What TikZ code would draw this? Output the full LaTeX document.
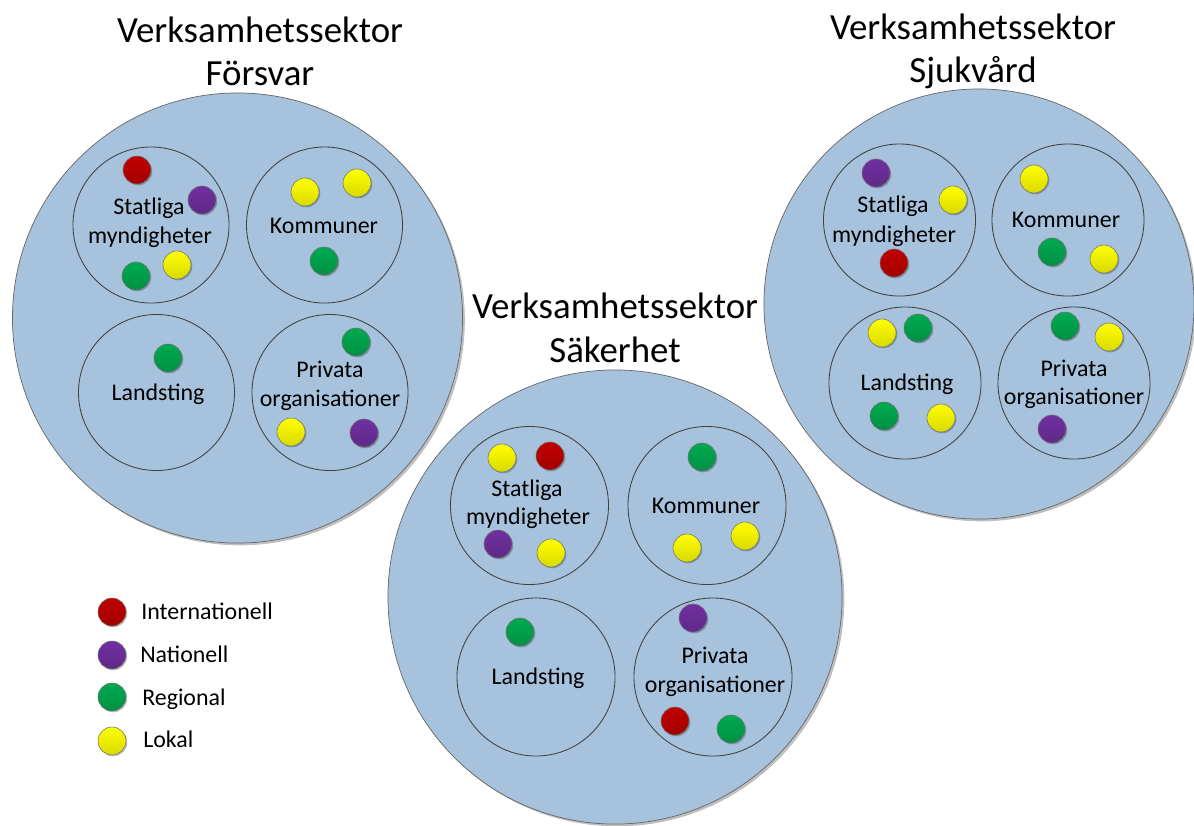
\documentclass[tikz,border=0pt]{standalone}
\usepackage{fontspec}
\setmainfont{Carlito}
\usetikzlibrary{shadows}
\definecolor{sectorblue}{RGB}{166, 194, 220}
\definecolor{intred}{RGB}{192, 0, 0}
\definecolor{natpurple}{RGB}{112, 48, 160}
\definecolor{reggreen}{RGB}{0, 170, 80}
\definecolor{lokyellow}{RGB}{255, 255, 0}

\tikzset{
  sector/.style={circle, draw=black!60, line width=0.5pt, fill=sectorblue, minimum size=#1, inner sep=0pt,
    drop shadow={shadow xshift=1.6pt, shadow yshift=-1.6pt, fill=black, opacity=0.25}},
  unit/.style={circle, draw=black!75, line width=0.6pt, minimum size=#1, inner sep=0pt},
  dot/.style={circle, draw=black!55, line width=0.4pt, minimum size=0.7cm, inner sep=0pt,
    top color=#1, bottom color=#1!85!black,
    drop shadow={shadow xshift=0.9pt, shadow yshift=-0.9pt, fill=black, opacity=0.25}},
  title/.style={anchor=base, inner sep=0pt, font=\fontsize{26.2}{31}\selectfont},
  lbl/.style={anchor=base, inner sep=0pt, font=\fontsize{17}{21}\selectfont},
  legendtext/.style={anchor=base west, inner sep=0pt, font=\fontsize{17}{21}\selectfont}
}

\begin{document}
\begin{tikzpicture}[x=0.025cm, y=-0.025cm]
  \useasboundingbox (0,0) rectangle (1194,825);

  % Sectors
  \node[sector=11.25cm] (forsvar) at (237.5,318) {};
  \node[sector=10.75cm] (sjukvard) at (979,304) {};
  \node[sector=11.35cm] (sakerhet) at (615,597) {};

  % Titles
  \node[title] (forsvar-t1) at (260,42) {Verksamhetssektor};
  \node[title] (forsvar-t2) at (260,85) {Försvar};
  \node[title] (sakerhet-t1) at (615,318) {Verksamhetssektor};
  \node[title] (sakerhet-t2) at (615,362) {Säkerhet};
  \node[title] (sjukvard-t1) at (973,39) {Verksamhetssektor};
  \node[title] (sjukvard-t2) at (973,82) {Sjukvård};

  % Units, Försvar
  \node[unit=3.9cm] (fstat) at (151,225) {};
  \node[unit=3.9cm] (fkomm) at (324.5,225) {};
  \node[unit=3.9cm] (fland) at (156.5,392.5) {};
  \node[unit=3.9cm] (fpriv) at (330,392.5) {};
  \node[lbl] (fstat-l1) at (149,214) {Statliga};
  \node[lbl] (fstat-l2) at (150,243) {myndigheter};
  \node[lbl] (fkomm-l) at (324,233) {Kommuner};
  \node[lbl] (fland-l) at (158,400) {Landsting};
  \node[lbl] (fpriv-l1) at (330,377) {Privata};
  \node[lbl] (fpriv-l2) at (330,406) {organisationer};

  % Units, Säkerhet
  \node[unit=3.95cm] (sstat) at (529.5,505.5) {};
  \node[unit=3.95cm] (skomm) at (707,505.5) {};
  \node[unit=3.95cm] (sland) at (536,677) {};
  \node[unit=3.95cm] (spriv) at (713,677) {};
  \node[lbl] (sstat-l1) at (527,496) {Statliga};
  \node[lbl] (sstat-l2) at (528,524) {myndigheter};
  \node[lbl] (skomm-l) at (706,513) {Kommuner};
  \node[lbl] (sland-l) at (538,684) {Landsting};
  \node[lbl] (spriv-l1) at (715,663) {Privata};
  \node[lbl] (spriv-l2) at (715,692) {organisationer};

  % Units, Sjukvård
  \node[unit=3.8cm] (jstat) at (899.5,220) {};
  \node[unit=3.8cm] (jkomm) at (1068,220) {};
  \node[unit=3.8cm] (jland) at (905,383) {};
  \node[unit=3.8cm] (jpriv) at (1074,383) {};
  \node[lbl] (jstat-l1) at (893,212) {Statliga};
  \node[lbl] (jstat-l2) at (894,242) {myndigheter};
  \node[lbl] (jkomm-l) at (1066,227) {Kommuner};
  \node[lbl] (jland-l) at (907,390) {Landsting};
  \node[lbl] (jpriv-l1) at (1074,376) {Privata};
  \node[lbl] (jpriv-l2) at (1074,404) {organisationer};

  % Actors
  \foreach \px/\py/\col [count=\i] in {137/170/intred, 202/200/natpurple, 136/276/reggreen, 177/265/lokyellow,
      305/192/lokyellow, 357/183/lokyellow, 324/261/reggreen, 168/358/reggreen,
      356/342/reggreen, 291/432/lokyellow, 364/433/natpurple}
    \node[dot=\col] (fd\i) at (\px,\py) {};
  \foreach \px/\py/\col [count=\i] in {502/458/lokyellow, 550/456/intred, 498/544/natpurple, 551/553/lokyellow,
      702/457/reggreen, 687/548/lokyellow, 745/536/lokyellow, 520/632/reggreen,
      693/618/natpurple, 675/721/intred, 731/729/reggreen}
    \node[dot=\col] (sd\i) at (\px,\py) {};
  \foreach \px/\py/\col [count=\i] in {876/173/natpurple, 953/200/lokyellow, 894/263/intred,
      1034/179/lokyellow, 1052/252/reggreen, 1104/259/lokyellow,
      882/333/lokyellow, 918/328/reggreen, 884/416/reggreen, 941/418/lokyellow,
      1065/326/reggreen, 1109/337/lokyellow, 1052/429/natpurple}
    \node[dot=\col] (jd\i) at (\px,\py) {};

  % Legend
  \node[dot=intred] (key-int) at (112,612) {};
  \node[dot=natpurple] (key-nat) at (112,655) {};
  \node[dot=reggreen] (key-reg) at (112,697) {};
  \node[dot=lokyellow] (key-lok) at (112,741) {};
  \node[legendtext] (key-int-t) at (141,619) {Internationell};
  \node[legendtext] (key-nat-t) at (140,662) {Nationell};
  \node[legendtext] (key-reg-t) at (142,705) {Regional};
  \node[legendtext] (key-lok-t) at (143,747) {Lokal};
\end{tikzpicture}
\end{document}
